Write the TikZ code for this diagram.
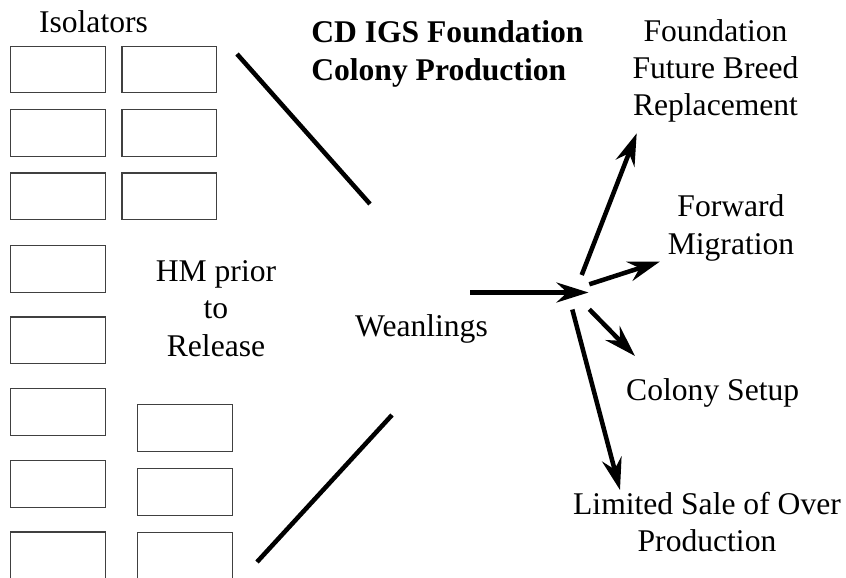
\documentclass[tikz,border=0pt]{standalone}
\usepackage{fontspec}
\setmainfont{Liberation Serif}
\usetikzlibrary{arrows.meta}

\begin{document}
\begin{tikzpicture}[x=0.75pt,y=-0.75pt,line width=3.4pt,
  >={Stealth[length=24pt,width=15pt,inset=8pt]}]
\tikzstyle{isolator}=[draw=black!75,line width=0.8pt,minimum width=71pt,minimum height=35pt,inner sep=0pt]
\tikzstyle{txt}=[font=\fontsize{23.7}{27.8}\selectfont,align=center,anchor=base,inner sep=0pt]
\tikzstyle{heading}=[txt,font=\bfseries\fontsize{23.7}{27.8}\selectfont,align=left,anchor=base west]

% Keep the page the size of the reference
\useasboundingbox (0,0) rectangle (846,578);
\clip (0,0) rectangle (846,578);

% Draw the upper isolator boxes, two columns
\foreach \name / \y in {1/69.5,2/133,3/196.3} {
  \node[isolator] (A-\name) at (57.8,\y) {};
  \node[isolator] (B-\name) at (169.3,\y) {};
}

% Draw the lower isolator boxes
\foreach \name / \y in {1/268.7,2/340.3,3/412,4/483.7,5/555.3}
  \node[isolator] (C-\name) at (57.8,\y) {};
\foreach \name / \y in {1/427.7,2/491.7,3/555.5}
  \node[isolator] (D-\name) at (185.2,\y) {};

% Labels (base anchor sits on the last line)
\node[txt] (isolators) at (93.5,32.3) {Isolators};
\node[heading] (title) at (309,80) {CD IGS Foundation\\Colony Production};
\node[txt] (hm) at (216,356) {HM prior\\to\\Release};
\node[txt] (weanlings) at (421.5,336.7) {Weanlings};
\node[txt] (foundation) at (715.5,115.5) {Foundation\\Future Breed\\Replacement};
\node[txt] (forward) at (731,254) {Forward\\Migration};
\node[txt] (setup) at (712.7,400) {Colony Setup};
\node[txt] (sale) at (707,551.7) {Limited Sale of Over\\Production};

% Funnel lines towards the weanlings
\coordinate (top-a) at (237,54);
\coordinate (top-b) at (370,204);
\coordinate (bot-a) at (392,415);
\coordinate (bot-b) at (257,562);
\draw (top-a) -- (top-b);
\draw (bot-a) -- (bot-b);

% Arrow into the hub and the four branches out of it
\coordinate (in) at (470,292.5);
\coordinate (hub) at (588.5,292.5);
\coordinate (f-s) at (581.7,275);
\coordinate (f-e) at (636.7,133.3);
\coordinate (m-s) at (589.3,284.3);
\coordinate (m-e) at (660,261.5);
\coordinate (c-s) at (589.3,309.3);
\coordinate (c-e) at (635,356);
\coordinate (l-s) at (572.3,309.5);
\coordinate (l-e) at (620,490);
\draw[->] (in) -- (hub);
\draw[->] (f-s) -- (f-e);
\draw[->] (m-s) -- (m-e);
\draw[->] (c-s) -- (c-e);
\draw[->] (l-s) -- (l-e);

\end{tikzpicture}
\end{document}
